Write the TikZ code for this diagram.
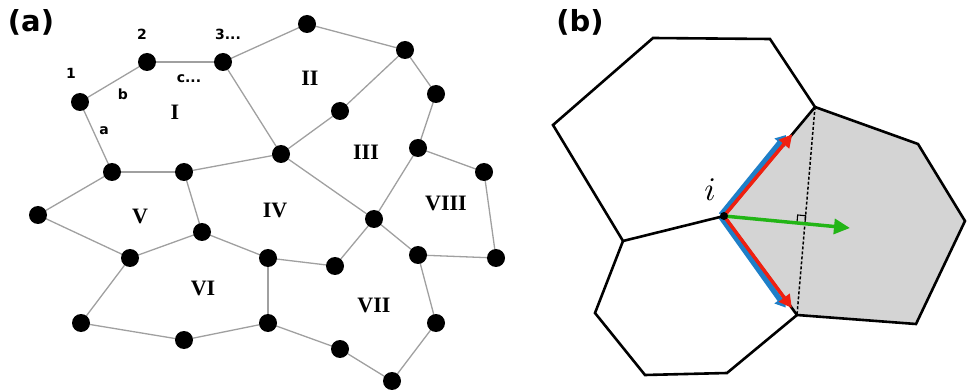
\documentclass[tikz,border=0pt]{standalone}
\usepackage{fontspec}
\usepackage{graphicx}
\usetikzlibrary{arrows.meta,calc}
\newfontfamily\labfont{DejaVu Sans}
\newfontfamily\romfont{Liberation Serif}
\definecolor{edgegray}{HTML}{A0A0A0}
\definecolor{cellgray}{HTML}{D4D4D4}
\definecolor{myblue}{HTML}{1E7FC8}
\definecolor{myred}{HTML}{F02010}
\definecolor{mygreen}{HTML}{22B516}
\tikzset{
  vtx/.style={circle,fill=black,inner sep=0pt,minimum size=18pt},
  gedge/.style={draw=edgegray,line width=1.3pt},
  region/.style={font=\romfont\bfseries\fontsize{22}{22}\selectfont,inner sep=0pt},
  small/.style={font=\labfont\bfseries\fontsize{14}{14}\selectfont,inner sep=0pt},
  panel/.style={font=\labfont\bfseries\fontsize{29}{29}\selectfont,inner sep=0pt},
  cell/.style={draw=black,line width=2.6pt,line join=miter},
}
\begin{document}
\begin{tikzpicture}[x=1pt,y=-1pt]
\useasboundingbox (0,0) rectangle (967,390);
% ---------- panel (a)
\node[panel] (pa) at (31,22) {(a)};
\foreach \n/\x/\y in {1/80/102,2/147/62,3/223/62,4/307/24,5/405/50,6/436/94,7/340/111,
  8/281/154,9/418/148,10/484/172,11/112/172,12/184/172,13/38/215,14/202/232,15/130/258,
  16/268/258,17/335/266,18/374/219,19/418/255,20/496/258,21/81/323,22/184/340,23/268/323,
  24/340/349,25/436/323,26/392/381}
  \coordinate (c\n) at (\x,\y);
\foreach \a/\b in {1/2,2/3,3/4,4/5,5/6,5/7,7/8,3/8,6/9,9/10,1/11,11/12,12/8,11/13,13/15,
  12/14,14/15,14/16,8/18,9/18,16/17,17/18,18/19,19/20,10/20,15/21,21/22,22/23,16/23,
  19/25,23/24,24/26,25/26}
  \draw[gedge] (c\a) -- (c\b);
\foreach \n in {1,...,26}
  \node[vtx] (v\n) at (c\n) {};
\node[region] (rI) at (175,112) {I};
\node[region] (rII) at (310,78) {II};
\node[region] (rIII) at (366,152) {III};
\node[region] (rIV) at (275,210) {IV};
\node[region] (rV) at (140,216) {V};
\node[region] (rVI) at (203,288) {VI};
\node[region] (rVII) at (374,305) {VII};
\node[region] (rVIII) at (446,203) {VIII};
\node[small] (l1) at (71,73) {1};
\node[small] (l2) at (142,34) {2};
\node[small] (l3) at (228,34) {3...};
\node[small] (la) at (104,131) {a};
\node[small] (lb) at (123,94) {b};
\node[small] (lc) at (189,79) {c...};
% ---------- panel (b)
\node[panel] (pb) at (580,22) {(b)};
\coordinate (i) at (724,216);
\coordinate (A) at (815,107);
\coordinate (B) at (797,315);
\coordinate (H1) at (653,38);
\coordinate (H2) at (770,39);
\coordinate (H3) at (553,125);
\coordinate (H4) at (623,241);
\coordinate (L1) at (727,373);
\coordinate (L2) at (645,375);
\coordinate (L3) at (595,313);
\coordinate (R1) at (918,144);
\coordinate (R2) at (965,221);
\coordinate (R3) at (916,324);
\coordinate (G) at (850,228);
\fill[cellgray] (i) -- (A) -- (R1) -- (R2) -- (R3) -- (B) -- cycle;
\draw[black,line width=1.5pt,dash pattern=on 3pt off 2pt] (A) -- (B);
\coordinate (X) at (intersection of i--G and A--B);
\coordinate (S1) at ($(X)!8pt!(A)$);
\coordinate (S2) at ($(X)!8pt!(i)$);
\draw[black,line width=1.1pt] (X) -- (S1) -- ($(S1)+(S2)-(X)$) -- (S2) -- cycle;
% blue arrows (under)
\draw[myblue,line width=5.5pt,-{Triangle[length=10pt,width=13pt]}]
  ($(i)+(-3,-1)$) -- ($(i)!0.72!(A)+(-3.5,-2.5)$);
\draw[myblue,line width=5.5pt,-{Triangle[length=10pt,width=13pt]}]
  ($(i)+(-3,1)$) -- ($(i)!0.9!(B)+(-4,2.5)$);
% cell edges
\draw[cell] (i) -- (A) -- (H2) -- (H1) -- (H3) -- (H4) -- cycle;
\draw[cell] (i) -- (B) -- (L1) -- (L2) -- (L3) -- (H4);
\draw[cell] (A) -- (R1) -- (R2) -- (R3) -- (B);
% red arrows
\draw[myred,line width=3.5pt,-{Triangle[length=13pt,width=13pt]}]
  (i) -- ($(i)!0.75!(A)$);
\draw[myred,line width=3.5pt,-{Triangle[length=13pt,width=13pt]}]
  (i) -- ($(i)!0.93!(B)$);
% green arrow
\draw[mygreen,line width=3.5pt,-{Triangle[length=16pt,width=15pt]}] (i) -- (G);
\fill[black] (i) circle (4pt);
\node[inner sep=0pt] (ilab) at (710,190) {\scalebox{3.3}{$i$}};
\end{tikzpicture}
\end{document}
